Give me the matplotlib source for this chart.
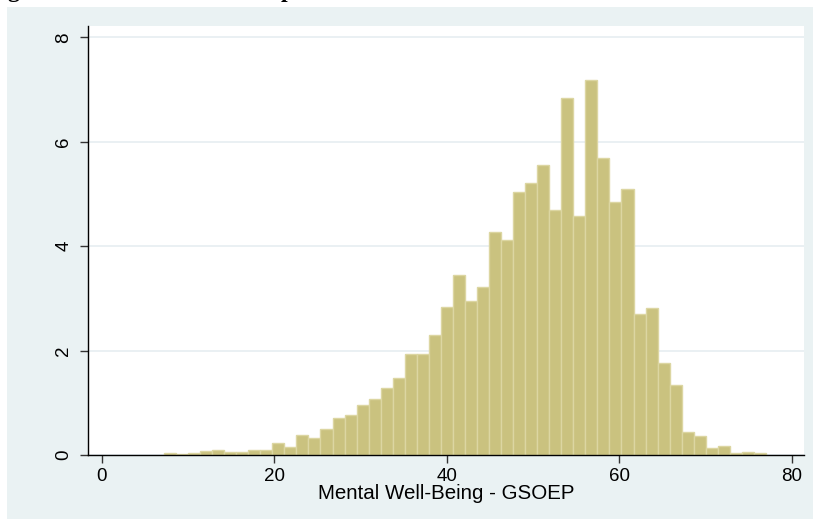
import matplotlib
matplotlib.use("Agg")
import matplotlib.pyplot as plt
from matplotlib.patches import Rectangle

# ---- data (percent per bin) ----
bin_start = 7.22          # lower edge of first bin
bin_width = 1.396         # width of each bin
percent = [
    0.04, 0.013, 0.04, 0.077, 0.09, 0.06, 0.06, 0.10, 0.10, 0.23,
    0.15, 0.39, 0.33, 0.50, 0.70, 0.76, 0.96, 1.07, 1.28, 1.48,
    1.94, 1.93, 2.29, 2.83, 3.45, 2.96, 3.22, 4.28, 4.12, 5.04,
    5.21, 5.56, 4.69, 6.85, 4.58, 7.18, 5.70, 4.84, 5.10, 2.71,
    2.81, 1.76, 1.35, 0.45, 0.37, 0.13, 0.17, 0.03, 0.06, 0.03,
]
x_ticks = [0, 20, 40, 60, 80]
y_ticks = [0, 2, 4, 6, 8]
x_label = "Mental Well-Being - GSOEP"

W, H = 813, 519
fig = plt.figure(figsize=(W / 100, H / 100), dpi=100)
fig.patch.set_facecolor("white")

# Stata-like graph region background
bg = Rectangle((7 / W, 0), 1 - 7 / W, (H - 7) / H, transform=fig.transFigure,
               facecolor="#EAF2F3", edgecolor="none", zorder=-10)
fig.patches.append(bg)

# cropped title fragments (descenders only visible)
for ch, px in [("g", 7), ("p", 281)]:
    fig.text(px / W, 1 + 2.5 / H, ch, fontsize=17, fontweight="bold",
             family="Liberation Serif", va="baseline", ha="left", color="black")

left, right = 88.3 / W, 804 / W
bottom, top = (H - 455) / H, (H - 26) / H
ax = fig.add_axes([left, bottom, right - left, top - bottom])
ax.set_zorder(1)
ax.set_facecolor("white")

lefts = [bin_start + i * bin_width for i in range(len(percent))]
ax.bar(lefts, percent, width=bin_width, align="edge",
       color="#CAC27F", edgecolor="#DCD6A2", linewidth=1.0, zorder=3)

ax.set_xlim(-1.55, 81.43)
ax.set_ylim(0, 8.22)
ax.set_xticks(x_ticks)
ax.set_yticks(y_ticks)
ax.yaxis.grid(True, color="#E6EEF1", linewidth=1.2, zorder=0)
ax.set_axisbelow(True)

for s in ["top", "right"]:
    ax.spines[s].set_visible(False)
for s in ["left", "bottom"]:
    ax.spines[s].set_color("black")
    ax.spines[s].set_linewidth(1.0)
    ax.spines[s].set_zorder(5)

font = "Liberation Sans"
ax.tick_params(axis="both", direction="out", length=5.5, width=1.0,
               color="#333333", labelsize=13.5, pad=4)
ax.tick_params(axis="y", pad=6)
for lbl in ax.get_xticklabels():
    lbl.set_family(font)
for lbl in ax.get_yticklabels():
    lbl.set_family(font)
    lbl.set_rotation(90)
    lbl.set_va("center")

ax.set_xlabel(x_label, family=font, fontsize=14.8, labelpad=-1)

fig.savefig("out.png", dpi=100, facecolor=fig.get_facecolor())
